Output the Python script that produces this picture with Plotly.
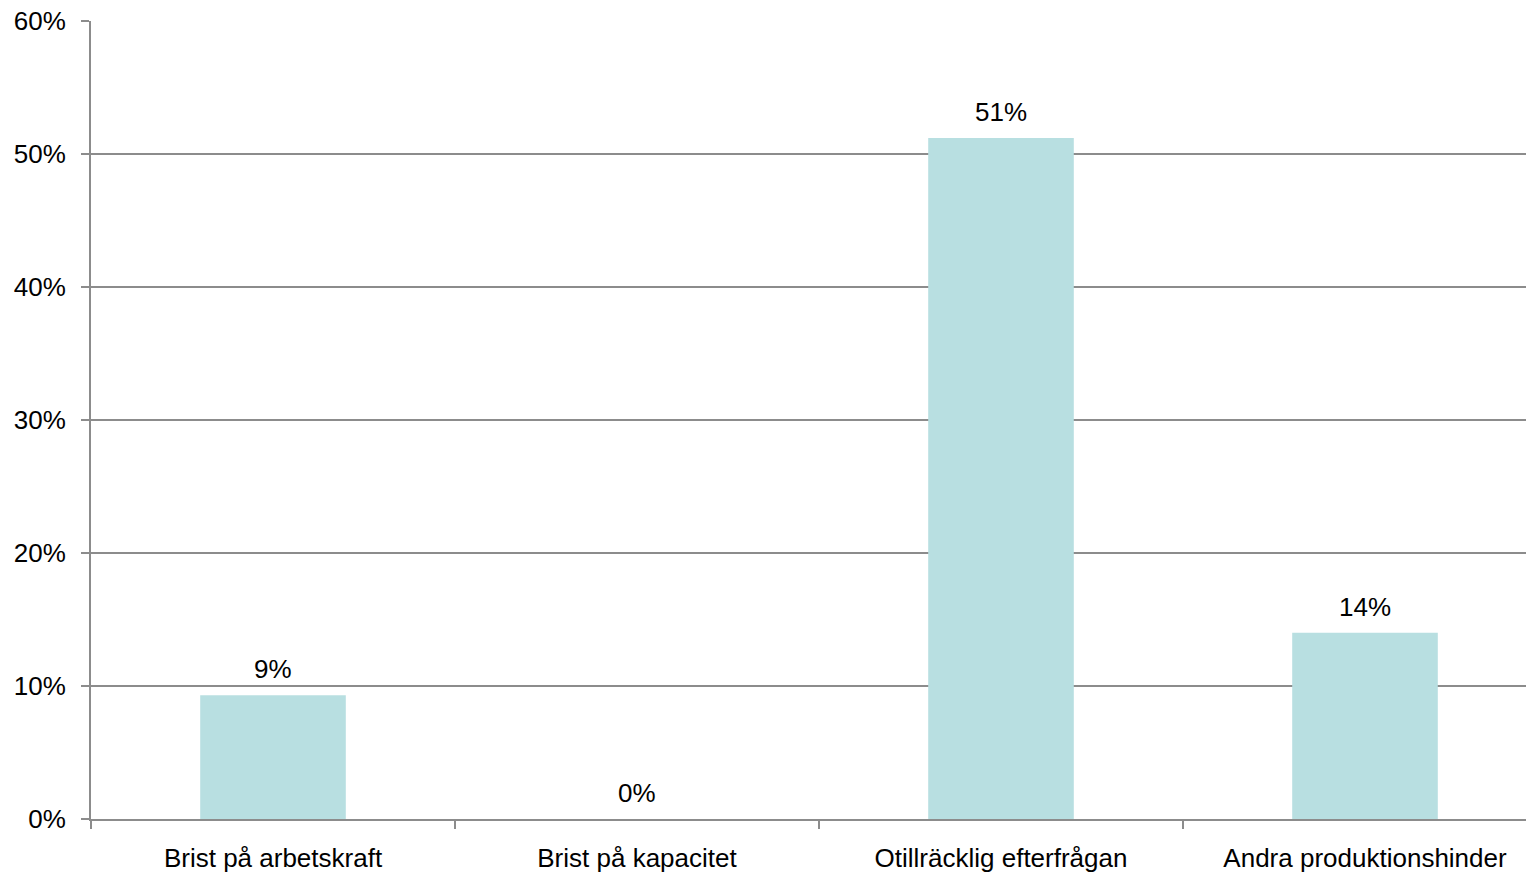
import plotly.graph_objects as go

categories = ["Brist på arbetskraft", "Brist på kapacitet", "Otillräcklig efterfrågan", "Andra produktionshinder"]
values = [9.3, 0.0, 51.2, 14.0]
y_ticks = [0, 10, 20, 30, 40, 50, 60]

GRID = "#8c8c8c"
BAR = "#b8dfe1"
FONT = "Liberation Sans, Arial, sans-serif"
FS = 26

fig = go.Figure(go.Bar(
    x=categories,
    y=values,
    width=0.4,
    marker=dict(color=BAR, line=dict(width=0)),
    hoverinfo="x+y",
))

for c, v in zip(categories, values):
    fig.add_annotation(
        x=c, y=v, text=f"{v:.0f}%", showarrow=False,
        yanchor="bottom", yshift=9,
        font=dict(size=FS, family=FONT, color="#000000"),
    )

# The reference plot area runs slightly past the right edge of the picture
fig.update_layout(
    width=1547, height=875,
    margin=dict(l=91, r=0, t=21, b=56, autoexpand=False),
    paper_bgcolor="white", plot_bgcolor="white",
    font=dict(family=FONT, size=FS, color="#000000"),
    showlegend=False,
    bargap=0.6,
)
fig.update_xaxes(
    automargin=False,
    showline=True, linecolor=GRID, linewidth=2,
    ticks="outside", tickson="boundaries", ticklen=8, tickcolor=GRID, tickwidth=2,
    showgrid=False,
    ticklabelstandoff=15,
    tickfont=dict(size=FS, family=FONT),
)
fig.update_yaxes(
    automargin=False,
    range=[0, 60],
    tickvals=y_ticks,
    ticktext=[f"{v}%" for v in y_ticks],
    showline=True, linecolor=GRID, linewidth=2,
    ticks="outside", ticklen=8, tickcolor=GRID, tickwidth=2,
    showgrid=True, gridcolor=GRID, gridwidth=2,
    zeroline=False,
    ticklabelstandoff=10,
    tickfont=dict(size=FS, family=FONT),
)

fig.write_html(
    "out.html",
    config={"displayModeBar": False},
    post_script="document.body.style.margin='0';document.body.style.overflow='hidden';",
)
